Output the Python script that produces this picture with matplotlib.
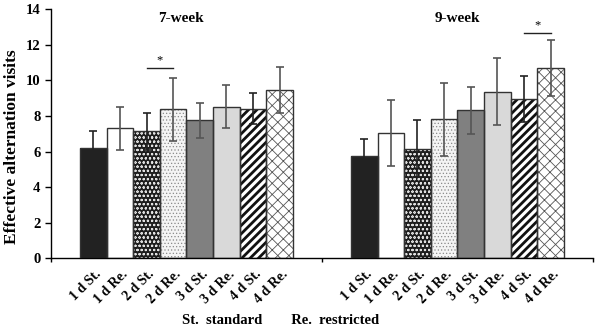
import matplotlib
matplotlib.use("Agg")
import matplotlib.pyplot as plt
import numpy as np

labels = ["1 d St.", "1 d Re.", "2 d St.", "2 d Re.", "3 d St.", "3 d Re.", "4 d St.", "4 d Re."]
groups = ["7-week", "9-week"]
week7_mean = [6.22, 7.32, 7.14, 8.38, 7.77, 8.52, 8.40, 9.45]
week7_err = [0.93, 1.21, 1.03, 1.78, 0.98, 1.20, 0.87, 1.29]
week9_mean = [5.73, 7.06, 6.16, 7.83, 8.32, 9.37, 8.95, 10.70]
week9_err = [0.96, 1.87, 1.60, 2.05, 1.34, 1.90, 1.31, 1.55]
sig_pairs = [(0, 2, 3, 10.7), (1, 6, 7, 12.65)]

plt.rcParams['font.family'] = ['Liberation Serif', 'DejaVu Serif']
plt.rcParams['font.weight'] = 'bold'

fig = plt.figure(figsize=(6, 3.28), dpi=100)
ax = fig.add_axes([0.085, 0.2125, 0.903, 0.759])

styles = [
    dict(facecolor='#222222', hatch=None, hcol='#222222', hlw=1.0),
    dict(facecolor='white', hatch=None, hcol='#222222', hlw=1.0),
    dict(facecolor='#1e1e1e', hatch='oooo', hcol='#e0e0e0', hlw=0.5),
    dict(facecolor='#f4f4f4', hatch='.....', hcol='#8a8a8a', hlw=0.5),
    dict(facecolor='#808080', hatch=None, hcol='#333333', hlw=1.0),
    dict(facecolor='#d9d9d9', hatch=None, hcol='#333333', hlw=1.0),
    dict(facecolor='white', hatch='////', hcol='#111111', hlw=2.0),
    dict(facecolor='white', hatch='xxx', hcol='#555555', hlw=0.6),
]

w = 0.786 / 8
data = [(week7_mean, week7_err), (week9_mean, week9_err)]
for g, (means, errs) in enumerate(data):
    for i in range(8):
        x = g + 0.5 + (i - 3.5) * w
        st = styles[i]
        with plt.rc_context({'hatch.linewidth': st['hlw'], 'hatch.color': st['hcol']}):
            if st['hatch']:
                ax.bar(x, means[i], width=w, facecolor=st['facecolor'], hatch=st['hatch'],
                       edgecolor=st['hcol'], linewidth=0, zorder=2)
            else:
                ax.bar(x, means[i], width=w, facecolor=st['facecolor'], linewidth=0, zorder=2)
        ax.bar(x, means[i], width=w, facecolor='none', edgecolor='#333333', linewidth=1.0, zorder=3)
        ecol = '#222222' if i in (0, 2, 6) else '#555555'
        ax.errorbar(x, means[i], yerr=errs[i], fmt='none', ecolor=ecol, elinewidth=1.2,
                    capsize=3, capthick=1.2, zorder=4)
    ax.text(g + 0.5 - (0.02 if g == 0 else 0), 13.5, groups[g], ha='center', va='center',
            fontsize=11, fontweight='bold')

for g, a, b, y in sig_pairs:
    xa = g + 0.5 + (a - 3.5) * w
    xb = g + 0.5 + (b - 3.5) * w
    ax.plot([xa, xb], [y, y], color='#222222', lw=1.0, zorder=4)
    ax.text((xa + xb) / 2, y + 0.1, '*', ha='center', va='bottom', fontsize=9, fontweight='normal')

ax.set_xlim(0, 2)
ax.set_ylim(0, 14)
ax.set_yticks(range(0, 15, 2))
ax.set_xticks([0, 1, 2])
ax.set_xticklabels([])
ax.tick_params(axis='both', direction='out', length=4, width=1, labelsize=10.5)
ax.tick_params(axis='x', length=3)
for lab in ax.get_yticklabels():
    lab.set_fontweight('bold')
ax.spines['top'].set_visible(False)
ax.spines['right'].set_visible(False)
ax.spines['left'].set_linewidth(1.0)
ax.spines['bottom'].set_linewidth(1.0)

for g in range(2):
    for i in range(8):
        x = g + 0.5 + (i - 3.5) * w + w * 0.05
        ax.text(x, -0.5, labels[i], rotation=45, ha='right', va='top', fontsize=10,
                fontweight='bold', rotation_mode='anchor')

ax.set_ylabel('Effective alternation visits', fontsize=12.5, fontweight='bold')
ax.yaxis.set_label_coords(-0.058, 0.45)
fig.text(0.468, 0.022, 'St.  standard        Re.  restricted', ha='center', va='center',
         fontsize=10.5, fontweight='bold')

fig.savefig('out.png', dpi=100)
